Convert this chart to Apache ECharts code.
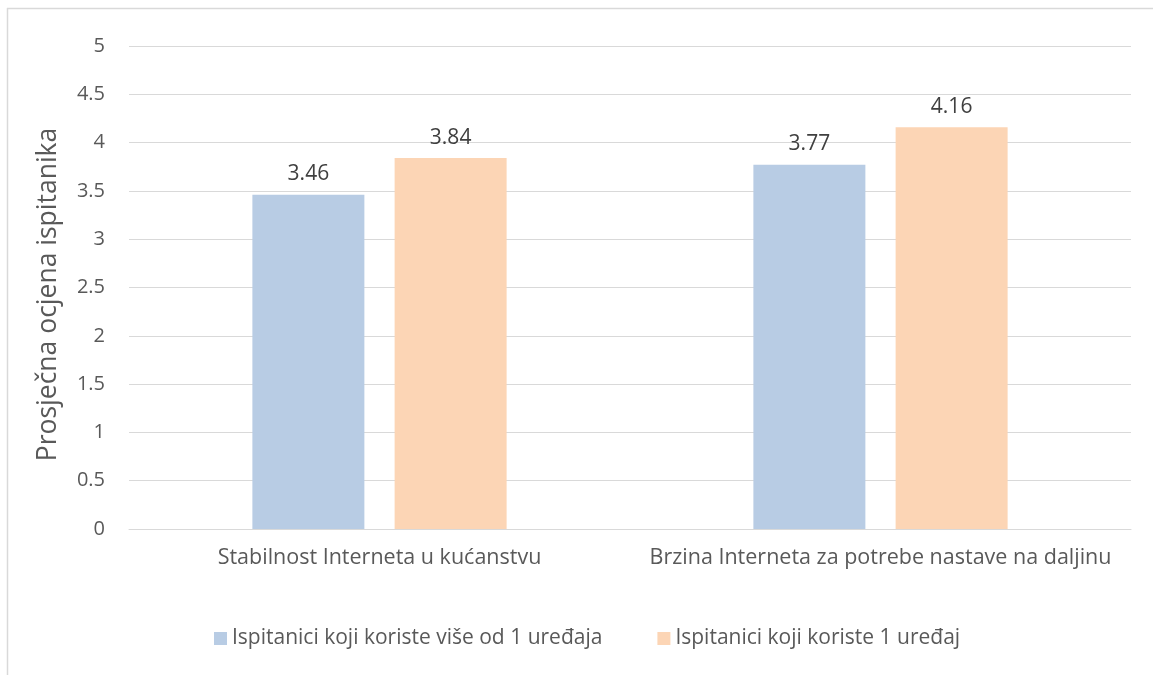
<!DOCTYPE html>
<html>
<head>
<meta charset="utf-8">
<script src="https://cdn.jsdelivr.net/npm/echarts@6/dist/echarts.min.js"></script>
<style>html,body{margin:0;padding:0;background:#fff;}#c{width:1153px;height:675px;}</style>
</head>
<body>
<div id="c"></div>
<script>
const categories = ['Stabilnost Interneta u kućanstvu', 'Brzina Interneta za potrebe nastave na daljinu'];
const seriesNames = ['Ispitanici koji koriste više od 1 uređaja', 'Ispitanici koji koriste 1 uređaj'];
const seriesA = [3.46, 3.77];
const seriesB = [3.84, 4.16];
const yAxisName = 'Prosječna ocjena ispitanika';

const font = 'Open Sans';
const chart = echarts.init(document.getElementById('c'));
chart.setOption({
  animation: false,
  textStyle: {fontFamily: font},
  graphic: [
    {type: 'line', shape: {x1: 7, y1: 8.5, x2: 1153, y2: 8.5}, style: {stroke: '#d9d9d9', lineWidth: 1.5}},
    {type: 'line', shape: {x1: 7.5, y1: 8, x2: 7.5, y2: 675}, style: {stroke: '#d9d9d9', lineWidth: 1.5}}
  ],
  grid: {left: 129, right: 22, top: 46, bottom: 146, containLabel: false},
  legend: {
    bottom: 21, left: 209, itemWidth: 13, itemHeight: 13, itemGap: 55,
    icon: 'rect',
    textStyle: {fontSize: 21, color: '#595959', fontFamily: font},
    data: seriesNames
  },
  xAxis: {
    type: 'category', data: categories,
    axisLine: {lineStyle: {color: '#d9d9d9', width: 1}},
    axisTick: {show: false},
    axisLabel: {interval: 0, fontSize: 21.5, color: '#595959', margin: 18, fontFamily: font}
  },
  yAxis: {
    type: 'value', min: 0, max: 5, interval: 0.5,
    name: yAxisName, nameLocation: 'middle', nameGap: 67,
    nameTextStyle: {fontSize: 26.5, color: '#595959', fontFamily: font, padding: [0, 14, 0, 0]},
    axisLine: {show: false}, axisTick: {show: false},
    splitLine: {lineStyle: {color: '#d9d9d9', width: 1}},
    axisLabel: {fontSize: 20, color: '#595959', margin: 24, fontFamily: font}
  },
  series: [
    {name: seriesNames[0], type: 'bar', data: seriesA, barWidth: 112, barGap: '27%',
     itemStyle: {color: '#b8cce4'},
     label: {show: true, position: 'top', distance: 10, fontSize: 21, color: '#404040', fontFamily: font}},
    {name: seriesNames[1], type: 'bar', data: seriesB, barWidth: 112,
     itemStyle: {color: '#fcd5b5'},
     label: {show: true, position: 'top', distance: 10, fontSize: 21, color: '#404040', fontFamily: font}}
  ]
});
</script>
</body>
</html>
